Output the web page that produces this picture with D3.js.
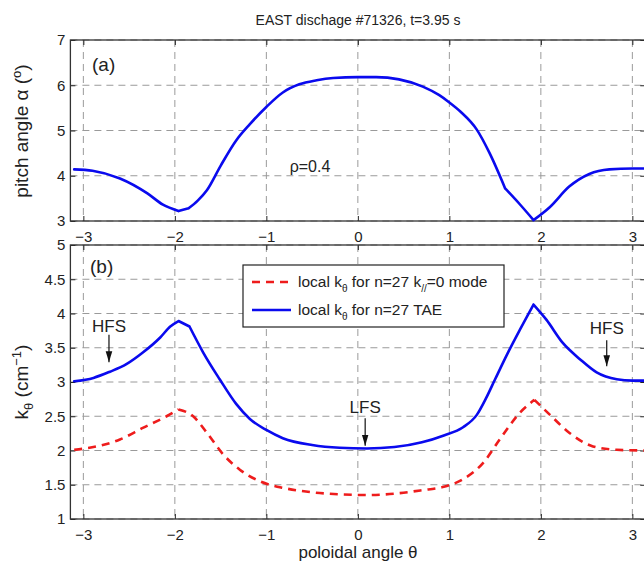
<!DOCTYPE html>
<meta charset="utf-8">

<style>
	body { margin:0; background:#fff; }
	svg { display:block; font-family:"Liberation Sans", Arial, Helvetica, sans-serif; }
	.tick text { font-size:15px; fill:#222; }
	.tick line { stroke:#222; }
</style>

<script src="https://d3js.org/d3.v7.min.js"></script>

<body>
<div id="chart"></div>

<script>
	// panel (a): pitch angle vs poloidal angle
	var thetaA = [-3.1, -2.9, -2.6, -2.3, -2.13, -1.96, -1.85, -1.75, -1.65, -1.5, -1.33, -1.18, -1.0, -0.82, -0.64, -0.45, -0.27, 0, 0.2, 0.45, 0.71, 0.89, 1.0, 1.12, 1.3, 1.44, 1.61, 1.77, 1.92, 2.1, 2.31, 2.53, 2.75, 3.0, 3.14];
	var alpha  = [4.14, 4.11, 3.94, 3.61, 3.36, 3.22, 3.28, 3.45, 3.68, 4.22, 4.78, 5.14, 5.52, 5.84, 6.02, 6.11, 6.16, 6.18, 6.18, 6.13, 5.97, 5.78, 5.62, 5.42, 5.02, 4.5, 3.72, 3.37, 3.02, 3.31, 3.76, 4.04, 4.14, 4.16, 4.16];
	var cornersA = [-1.96, -1.85, 1.61, 1.92];

	// panel (b): local k_theta, n=27 TAE
	var thetaTae = [-3.1, -2.89, -2.71, -2.53, -2.35, -2.16, -2.05, -1.96, -1.84, -1.69, -1.51, -1.33, -1.18, -1.0, -0.82, -0.5, -0.2, 0.1, 0.4, 0.7, 0.94, 1.15, 1.3, 1.4, 1.5, 1.63, 1.77, 1.92, 2.06, 2.24, 2.43, 2.61, 2.83, 3.0, 3.14];
	var kTae     = [3.01, 3.06, 3.15, 3.26, 3.43, 3.65, 3.81, 3.89, 3.81, 3.43, 3.04, 2.68, 2.46, 2.3, 2.18, 2.08, 2.04, 2.03, 2.05, 2.12, 2.22, 2.34, 2.52, 2.76, 3.04, 3.4, 3.76, 4.13, 3.91, 3.57, 3.33, 3.14, 3.04, 3.02, 3.02];
	var cornersTae = [-1.96, -1.84, 1.92];

	// panel (b): local k_theta, n=27 k_par=0 mode
	var thetaK0 = [-3.1, -2.89, -2.6, -2.35, -2.09, -1.96, -1.8, -1.65, -1.47, -1.29, -1.07, -0.8, -0.5, -0.2, 0.1, 0.4, 0.7, 0.94, 1.15, 1.37, 1.55, 1.77, 1.93, 2.1, 2.31, 2.57, 2.83, 3.14];
	var k0      = [2.01, 2.05, 2.16, 2.33, 2.5, 2.6, 2.5, 2.26, 1.94, 1.72, 1.55, 1.45, 1.39, 1.36, 1.35, 1.37, 1.42, 1.47, 1.58, 1.82, 2.16, 2.55, 2.74, 2.52, 2.26, 2.06, 2.01, 2.0];
	var cornersK0 = [-1.96, 1.93];

	var xTicks = [-3, -2, -1, 0, 1, 2, 3];
	var yTicksA = [3, 4, 5, 6, 7];
	var yTicksB = [1, 1.5, 2, 2.5, 3, 3.5, 4, 4.5, 5];

	var width = 644, height = 563;
	var svg = d3.select("#chart").append("svg")
		.attr("width", width)
		.attr("height", height);

	var x = d3.scaleLinear().domain([-Math.PI, Math.PI]).range([70.4, 645.3]);
	var yA = d3.scaleLinear().domain([3, 7]).range([221, 40]);
	var yB = d3.scaleLinear().domain([1, 5]).range([519, 245]);
	var fmt = d3.format("~g");

	function drawPanel(y, yTicks) {
		var top = y.range()[1], bottom = y.range()[0];
		var left = x.range()[0], right = x.range()[1];
		var g = svg.append("g");

		// dashed grid
		g.selectAll(".gx").data(xTicks).enter().append("line")
			.attr("x1", function(d) {return x(d)}).attr("x2", function(d) {return x(d)})
			.attr("y1", top).attr("y2", bottom)
			.attr("stroke", "#9a9a9a").attr("stroke-dasharray", "7,5");
		g.selectAll(".gy").data(yTicks).enter().append("line")
			.attr("x1", left).attr("x2", right)
			.attr("y1", function(d) {return y(d)}).attr("y2", function(d) {return y(d)})
			.attr("stroke", "#9a9a9a").attr("stroke-dasharray", "7,5");

		// axes, ticks pointing inward like matlab
		g.append("g").attr("transform", "translate(0," + bottom + ")")
			.call(d3.axisBottom(x).tickValues(xTicks).tickFormat(fmt).tickSize(-5).tickSizeOuter(0).tickPadding(10))
			.call(function(s) {s.select(".domain").remove()});
		g.append("g").attr("transform", "translate(0," + top + ")")
			.call(d3.axisTop(x).tickValues(xTicks).tickSize(-5).tickSizeOuter(0).tickFormat(""))
			.call(function(s) {s.select(".domain").remove()});
		g.append("g").attr("transform", "translate(" + left + ",0)")
			.call(d3.axisLeft(y).tickValues(yTicks).tickFormat(fmt).tickSize(-5).tickSizeOuter(0).tickPadding(5))
			.call(function(s) {s.select(".domain").remove()});
		g.append("g").attr("transform", "translate(" + right + ",0)")
			.call(d3.axisRight(y).tickValues(yTicks).tickSize(-5).tickSizeOuter(0).tickFormat(""))
			.call(function(s) {s.select(".domain").remove()});

		g.append("rect")
			.attr("x", left).attr("y", top)
			.attr("width", right - left).attr("height", bottom - top)
			.attr("fill", "none").attr("stroke", "#333").attr("stroke-width", 1.3);
		return g;
	}

	// smooth curve, but kept sharp at the corner points
	function drawCurve(g, xs, ys, y, corners, color, dash) {
		var pts = xs.map(function(d, i) {return [d, ys[i]]});
		var segs = [[]];
		pts.forEach(function(p) {
			segs[segs.length - 1].push(p);
			if (corners.indexOf(p[0]) >= 0) segs.push([p]);
		});
		var line = d3.line()
			.x(function(d) {return x(d[0])})
			.y(function(d) {return y(d[1])})
			.curve(d3.curveMonotoneX);
		var path = segs.map(function(s) {return line(s)}).join("");
		g.append("path")
			.attr("d", path)
			.attr("fill", "none")
			.attr("stroke", color)
			.attr("stroke-width", 2.6)
			.attr("stroke-linecap", dash ? "butt" : "round")
			.attr("stroke-dasharray", dash || null);
	}

	var gA = drawPanel(yA, yTicksA);
	var gB = drawPanel(yB, yTicksB);

	drawCurve(gA, thetaA, alpha, yA, cornersA, "#0a0aee");
	drawCurve(gB, thetaK0, k0, yB, cornersK0, "#ee1c1c", "8,6");
	drawCurve(gB, thetaTae, kTae, yB, cornersTae, "#0a0aee");

	// title and labels
	svg.append("text").attr("x", 358).attr("y", 25).attr("text-anchor", "middle")
		.attr("font-size", 14).attr("fill", "#222").text("EAST dischage #71326, t=3.95 s");

	svg.append("text").attr("x", 358).attr("y", 558).attr("text-anchor", "middle")
		.attr("font-size", 17).attr("fill", "#222").text("poloidal angle θ");

	var ylabA = svg.append("text").attr("transform", "translate(28,131) rotate(-90)")
		.attr("text-anchor", "middle").attr("font-size", 19).attr("fill", "#222");
	ylabA.append("tspan").text("pitch angle α (");
	ylabA.append("tspan").attr("dy", -7).attr("font-size", 13).text("o");
	ylabA.append("tspan").attr("dy", 7).text(")");

	var ylabB = svg.append("text").attr("transform", "translate(28,382) rotate(-90)")
		.attr("text-anchor", "middle").attr("font-size", 19).attr("fill", "#222");
	ylabB.append("tspan").text("k");
	ylabB.append("tspan").attr("dy", 5).attr("font-size", 13).text("θ");
	ylabB.append("tspan").attr("dy", -5).text(" (cm");
	ylabB.append("tspan").attr("dy", -7).attr("font-size", 13).text("−1");
	ylabB.append("tspan").attr("dy", 7).text(")");

	svg.append("text").attr("x", 92).attr("y", 71).attr("font-size", 19).attr("fill", "#222").text("(a)");
	svg.append("text").attr("x", 90).attr("y", 273).attr("font-size", 19).attr("fill", "#222").text("(b)");
	svg.append("text").attr("x", 310).attr("y", 172).attr("text-anchor", "middle")
		.attr("font-size", 16).attr("fill", "#222").text("ρ=0.4");

	// arrows
	svg.append("defs").append("marker")
		.attr("id", "head").attr("viewBox", "0 0 10 10")
		.attr("refX", 10).attr("refY", 5)
		.attr("markerWidth", 11).attr("markerHeight", 11)
		.attr("markerUnits", "userSpaceOnUse")
		.attr("orient", "auto")
		.append("path").attr("d", "M0,2L10,5L0,8Z").attr("fill", "#111");

	var notes = [
		{label: "HFS", tx: -2.72, ty: 3.83, y1: 3.69, y2: 3.29},
		{label: "HFS", tx: 2.72, ty: 3.79, y1: 3.61, y2: 3.23},
		{label: "LFS", tx: 0.08, ty: 2.64, y1: 2.47, y2: 2.07}
	];
	notes.forEach(function(n) {
		svg.append("text").attr("x", x(n.tx)).attr("y", yB(n.ty) + 6.5)
			.attr("text-anchor", "middle").attr("font-size", 17).attr("fill", "#222").text(n.label);
		svg.append("line")
			.attr("x1", x(n.tx)).attr("x2", x(n.tx))
			.attr("y1", yB(n.y1)).attr("y2", yB(n.y2))
			.attr("stroke", "#111").attr("stroke-width", 1.2)
			.attr("marker-end", "url(#head)");
	});

	// legend
	var leg = svg.append("g");
	leg.append("rect").attr("x", 243).attr("y", 265).attr("width", 261).attr("height", 62)
		.attr("fill", "#fff").attr("stroke", "#222").attr("stroke-width", 1.2);
	var entries = [
		{color: "#ee1c1c", dash: "8,6", y: 282, main: ["local k", "θ", " for n=27 k", "//", "=0 mode"]},
		{color: "#0a0aee", dash: null, y: 310, main: ["local k", "θ", " for n=27 TAE"]}
	];
	entries.forEach(function(e) {
		leg.append("line").attr("x1", 252).attr("x2", 291).attr("y1", e.y).attr("y2", e.y)
			.attr("stroke", e.color).attr("stroke-width", 2.6).attr("stroke-dasharray", e.dash);
		var t = leg.append("text").attr("x", 298).attr("y", e.y + 5).attr("font-size", 15.5).attr("fill", "#222");
		e.main.forEach(function(s, i) {
			if (i % 2 == 1) t.append("tspan").attr("dy", 5).attr("font-size", 10).text(s);
			else t.append("tspan").attr("dy", i == 0 ? 0 : -5).text(s);
		});
	});
</script>
</body>
